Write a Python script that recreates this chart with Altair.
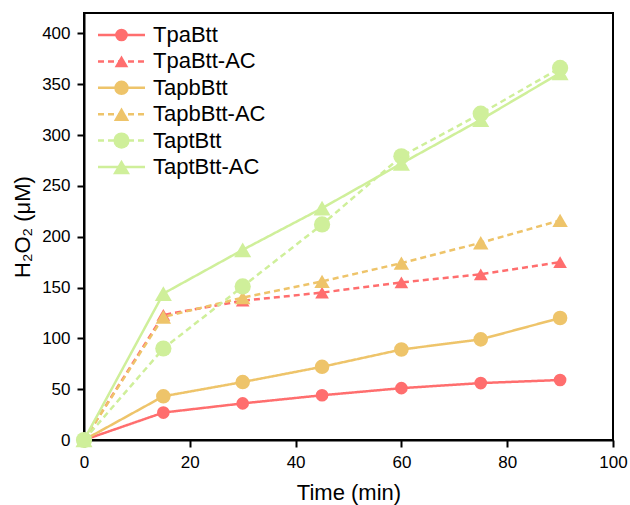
import altair as alt
import pandas as pd

times = [0, 15, 30, 45, 60, 75, 90]
names = ["TpaBtt", "TpaBtt-AC", "TapbBtt", "TapbBtt-AC", "TaptBtt", "TaptBtt-AC"]
tpa = [0, 27, 36, 44, 51, 56, 59]
tpa_ac = [0, 123, 137, 145, 155, 163, 175]
tapb = [0, 43, 57, 72, 89, 99, 120]
tapb_ac = [0, 121, 140, 156, 174, 194, 216]
tapt = [0, 90, 151, 212, 279, 321, 366]
tapt_ac = [0, 144, 187, 228, 272, 315, 361]
x_ticks = [0, 20, 40, 60, 80, 100]
y_ticks = [0, 50, 100, 150, 200, 250, 300, 350, 400]

colors = ["#FF6E6E", "#FF6E6E", "#EEC46A", "#EEC46A", "#CFEF9A", "#CFEF9A"]
shapes = ["circle", "triangle-up", "circle", "triangle-up", "circle", "triangle-up"]
sizes = [160, 290, 160, 290, 160, 290]
dashes = [[1, 0], [6, 4], [1, 0], [6, 4], [6, 4], [1, 0]]

series_vals = [tpa, tpa_ac, tapb, tapb_ac, tapt, tapt_ac]
rows = []
for i, (n, vals) in enumerate(zip(names, series_vals)):
    for t, v in zip(times, vals):
        rows.append({"series": n, "order": i, "time": t, "value": v})
df = pd.DataFrame(rows)
leg = pd.DataFrame({"series": names, "order": list(range(len(names)))})

color_sc = alt.Scale(domain=names, range=colors)
shape_sc = alt.Scale(domain=names, range=shapes)
size_sc = alt.Scale(domain=names, range=sizes)
dash_sc = alt.Scale(domain=names, range=dashes)

x_enc = alt.X("time:Q", scale=alt.Scale(domain=[0, 100], nice=False),
              axis=alt.Axis(values=x_ticks, title="Time (min)", grid=False, labelFlush=False))
y_enc = alt.Y("value:Q", scale=alt.Scale(domain=[0, 420], nice=False),
              axis=alt.Axis(values=y_ticks, title="H₂O₂ (μM)", grid=False, labelFlush=False))

lines = alt.Chart(df).mark_line(strokeWidth=2.5).encode(
    x=x_enc, y=y_enc,
    color=alt.Color("series:N", scale=color_sc, legend=None),
    strokeDash=alt.StrokeDash("series:N", scale=dash_sc, legend=None),
    detail="series:N",
    order="time:Q",
)
points = alt.Chart(df).mark_point(filled=True, opacity=1).encode(
    x=x_enc, y=y_enc,
    color=alt.Color("series:N", scale=color_sc, legend=None),
    shape=alt.Shape("series:N", scale=shape_sc, legend=None),
    size=alt.Size("series:N", scale=size_sc, legend=None),
    order="order:Q",
)
main = alt.layer(lines, points)

leg_y = alt.Y("series:N", scale=alt.Scale(type="point", domain=names, range=[22, 154], padding=0), axis=None)
leg_rule = alt.Chart(leg).mark_rule(strokeWidth=2.5).encode(
    x=alt.value(14), x2=alt.value(61), y=leg_y,
    color=alt.Color("series:N", scale=color_sc, legend=None),
    strokeDash=alt.StrokeDash("series:N", scale=dash_sc, legend=None),
)
leg_pt = alt.Chart(leg).mark_point(filled=True, opacity=1).encode(
    x=alt.value(37.5), y=leg_y,
    color=alt.Color("series:N", scale=color_sc, legend=None),
    shape=alt.Shape("series:N", scale=shape_sc, legend=None),
    size=alt.Size("series:N", scale=size_sc, legend=None),
)
leg_txt = alt.Chart(leg).mark_text(align="left", baseline="middle", fontSize=22,
                                   font="Liberation Sans", color="black").encode(
    x=alt.value(69), y=leg_y, text="series:N",
)

chart = alt.layer(main, leg_rule, leg_pt, leg_txt).resolve_scale(y="independent").properties(
    width=529, height=427,
    padding={"left": 84, "top": 13, "right": 17, "bottom": 65},
    autosize=alt.AutoSizeParams(type="none"),
).configure_view(stroke="black", strokeWidth=2).configure_axis(
    domainColor="black", domainWidth=2, tickColor="black", tickWidth=2, tickSize=7,
    labelFont="Liberation Sans", labelFontSize=17, labelColor="black",
    titleFont="Liberation Sans", titleFontSize=22, titleColor="black", titleFontWeight="normal",
).configure_axisX(labelPadding=7, titlePadding=12).configure_axisY(labelPadding=7, titlePadding=7)

chart.save("out.html", embed_options={"renderer": "svg", "actions": False})
